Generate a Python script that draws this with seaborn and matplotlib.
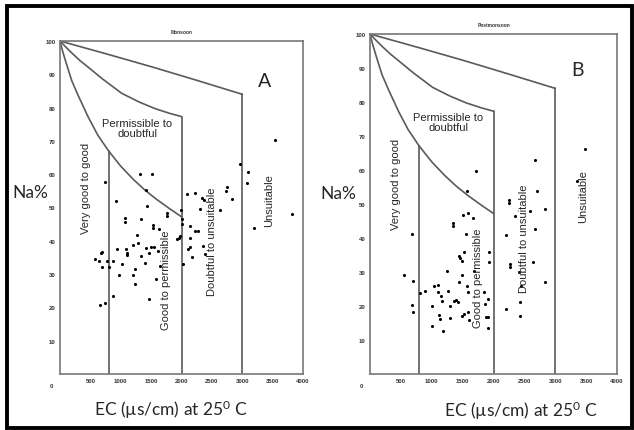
import numpy as np
import pandas as pd
import matplotlib
matplotlib.use("Agg")
import matplotlib.pyplot as plt
from matplotlib.patches import Rectangle
import seaborn as sns

sns.set_style("white")
plt.rcParams['font.family'] = ['Liberation Sans', 'DejaVu Sans']
plt.rcParams['mathtext.fontset'] = 'custom'
plt.rcParams['mathtext.rm'] = 'Lato'
plt.rcParams['mathtext.it'] = 'Lato:italic'

# ---------------- data ----------------
monsoon_ec = [577, 648, 676, 698, 692, 659, 742, 747, 769, 813, 879, 868, 918, 945, 978,
              1022, 1066, 1077, 1088, 1110, 1110, 1198, 1198, 1231, 1231, 1275, 1286, 1319,
              1330, 1341, 1407, 1418, 1418, 1429, 1462, 1473, 1495, 1522, 1527, 1527, 1549,
              1582, 1615, 1637, 1648, 1758, 1758, 1923, 1956, 1978, 1995, 2005, 2005, 2022,
              2088, 2099, 2132, 2132, 2143, 2170, 2214, 2225, 2264, 2297, 2335, 2352, 2374,
              2390, 2626, 2725, 2747, 2830, 2956, 3077, 3099, 3198, 3533, 3824]
monsoon_na = [34.6, 33.9, 36.2, 36.7, 32.1, 20.7, 21.3, 57.6, 33.9, 32.1, 33.9, 23.5, 51.9, 37.4, 29.6,
              33.1, 46.9, 45.6, 37.6, 36.4, 35.6, 38.6, 29.6, 31.6, 26.9, 41.7, 39.4, 60.2,
              46.4, 35.4, 33.4, 37.9, 55.4, 50.6, 36.2, 22.5, 38.2, 60.2, 44.8, 43.8, 38.2,
              28.4, 36.9, 43.4, 32.4, 48.4, 47.4, 40.4, 40.9, 41.4, 49.2, 46.4, 44.9, 33.1,
              54.2, 37.4, 44.4, 38.2, 40.9, 35.1, 54.4, 42.9, 42.9, 49.4, 52.9, 38.4, 52.4,
              35.9, 49.2, 55.0, 56.2, 52.6, 63.2, 57.4, 60.6, 43.9, 70.4, 47.9]

post_ec = [557, 686, 703, 676, 697, 816, 892, 1011, 1011, 1043, 1097, 1108, 1119, 1141, 1151,
           1162, 1184, 1249, 1259, 1292, 1303, 1341, 1351, 1368, 1395, 1422, 1443, 1443, 1465,
           1486, 1497, 1486, 1514, 1524, 1530, 1551, 1573, 1573, 1584, 1584, 1595, 1605, 1670,
           1692, 1714, 1854, 1865, 1876, 1908, 1908, 1908, 1930, 1935, 2205, 2205, 2243, 2254,
           2265, 2265, 2341, 2405, 2422, 2427, 2449, 2584, 2632, 2665, 2676, 2697, 2827, 2827,
           3351, 3476]
post_na = [29.1, 41.2, 27.3, 20.4, 18.3, 23.7, 24.4, 19.9, 14.2, 25.8, 26.3, 24.0, 17.4, 16.2, 23.0,
           21.6, 12.6, 30.2, 24.5, 20.1, 16.4, 44.3, 43.4, 21.5, 21.9, 21.1, 27.2, 34.6, 34.0,
           29.1, 33.1, 17.0, 46.8, 35.8, 17.6, 41.2, 53.9, 25.8, 24.2, 18.1, 47.5, 15.9, 45.8,
           30.4, 59.8, 24.2, 20.6, 16.9, 22.0, 16.9, 13.4, 36.0, 32.8, 40.9, 19.1, 51.2, 50.2,
           32.4, 31.4, 46.4, 29.9, 21.1, 17.0, 25.8, 47.8, 32.8, 42.6, 62.8, 53.8, 48.6, 27.0,
           56.9, 66.2]

# Wilcox boundary lines
curve1_ec = [0, 25, 50, 100, 193, 300, 466, 620, 795, 1000, 1209, 1400, 1593, 1800, 2000]
curve1_na = [100, 98.2, 96.5, 93.5, 88.1, 83.6, 77.1, 71.8, 67.1, 62.4, 58.4, 55.2, 52.4, 49.7, 47.2]
curve2_ec = [0, 100, 200, 330, 466, 700, 1015, 1300, 1564, 1800, 2000]
curve2_na = [100, 98.1, 96.3, 94.1, 92.1, 88.6, 84.3, 81.7, 79.7, 78.3, 77.3]
curve3_ec = [0, 750, 1500, 2250, 3000]
curve3_na = [100, 96.2, 92.3, 88.2, 84.0]
vlines_ec = [800, 2000, 3000]
vlines_top = [67, 77.3, 84.0]

x_ticks = [500, 1000, 1500, 2000, 2500, 3000, 3500, 4000]
y_ticks = [10, 20, 30, 40, 50, 60, 70, 80, 90, 100]

zones = ["Very good to good", "Good to permissible", "Permissible to\ndoubtful",
         "Doubtful to unsuitable", "Unsuitable"]

W, H = 634, 431
fig = plt.figure(figsize=(W / 100, H / 100), dpi=100)


def px_axes(l, r, t, b):
    return fig.add_axes([l / W, 1 - b / H, (r - l) / W, (b - t) / H])


axA = px_axes(60, 303, 42, 375)
axB = px_axes(370, 617, 35, 375)

line_c = "#5a5a5a"


def draw_panel(ax, ec, na, title, letter):
    df = pd.DataFrame({"EC": ec, "Na": na})
    for cx, cy in ((curve1_ec, curve1_na), (curve2_ec, curve2_na), (curve3_ec, curve3_na)):
        ax.plot(cx, cy, color=line_c, lw=1.2, zorder=2, solid_joinstyle="round")
    for xv, top in zip(vlines_ec, vlines_top):
        ax.plot([xv, xv], [0, top], color=line_c, lw=1.2, zorder=2)
    sns.scatterplot(data=df, x="EC", y="Na", ax=ax, color="black", s=5,
                    marker="o", linewidth=0, zorder=3, legend=False)
    ax.set_xlim(0, 4000)
    ax.set_ylim(0, 100)
    ax.set_xticks(x_ticks)
    ax.set_xticklabels([str(v) for v in x_ticks], fontsize=4.3, fontweight="bold", color="#333333")
    ax.set_yticks(y_ticks)
    ax.set_yticklabels([str(v) for v in y_ticks], fontsize=4.3, fontweight="bold", color="#333333")
    ax.tick_params(axis="both", direction="in", length=4, width=0.8, color="#777777", pad=3)
    for sp in ax.spines.values():
        sp.set_color("#777777")
        sp.set_linewidth(1.2)
    ax.set_xlabel("")
    ax.set_ylabel("")
    ax.set_title(title, fontsize=3.5, fontweight="bold", pad=6, color="#333333")
    ax.annotate("0", xy=(0, 0), xytext=(-6, -8), textcoords="offset points",
                fontsize=4.3, fontweight="bold", color="#333333", ha="center", va="center")
    # zone labels
    ax.text(420, 56, zones[0], rotation=90, fontsize=8, ha="center", va="center")
    ax.text(1745, 28.5, zones[1], rotation=90, fontsize=8, ha="center", va="center")
    ax.text(1268, 74, zones[2], fontsize=8, ha="center", va="center", linespacing=1.0)
    ax.text(2495, 40, zones[3], rotation=90, fontsize=8, ha="center", va="center")
    ax.text(3450, 52.5, zones[4], rotation=90, fontsize=8, ha="center", va="center")
    ax.text(0.84, 0.88 if letter == "A" else 0.895, letter, transform=ax.transAxes,
            fontsize=14, ha="center", va="center", family="Lato")


draw_panel(axA, monsoon_ec, monsoon_na, "Monsoon", "A")
draw_panel(axB, post_ec, post_na, "Postmonsoon", "B")

# axis labels placed as in the original figure
lbl = dict(family="Lato", fontsize=12.5, ha="center", va="center")
fig.text(30 / W, 1 - 193 / H, "Na%", **lbl)
fig.text(338 / W, 1 - 194 / H, "Na%", **lbl)
fig.text(171 / W, 1 - 410 / H, "EC (µs/cm) at 25$^{0}$ C", **lbl)
fig.text(521 / W, 1 - 411 / H, "EC (µs/cm) at 25$^{0}$ C", **lbl)

# outer black frame
fig.patches.append(Rectangle((6.5 / W, 2 / H), (632 - 6.5) / W, (424.5 - 2) / H,
                             transform=fig.transFigure, fill=False,
                             edgecolor="black", linewidth=2.8))

fig.savefig("out.png", dpi=100)
